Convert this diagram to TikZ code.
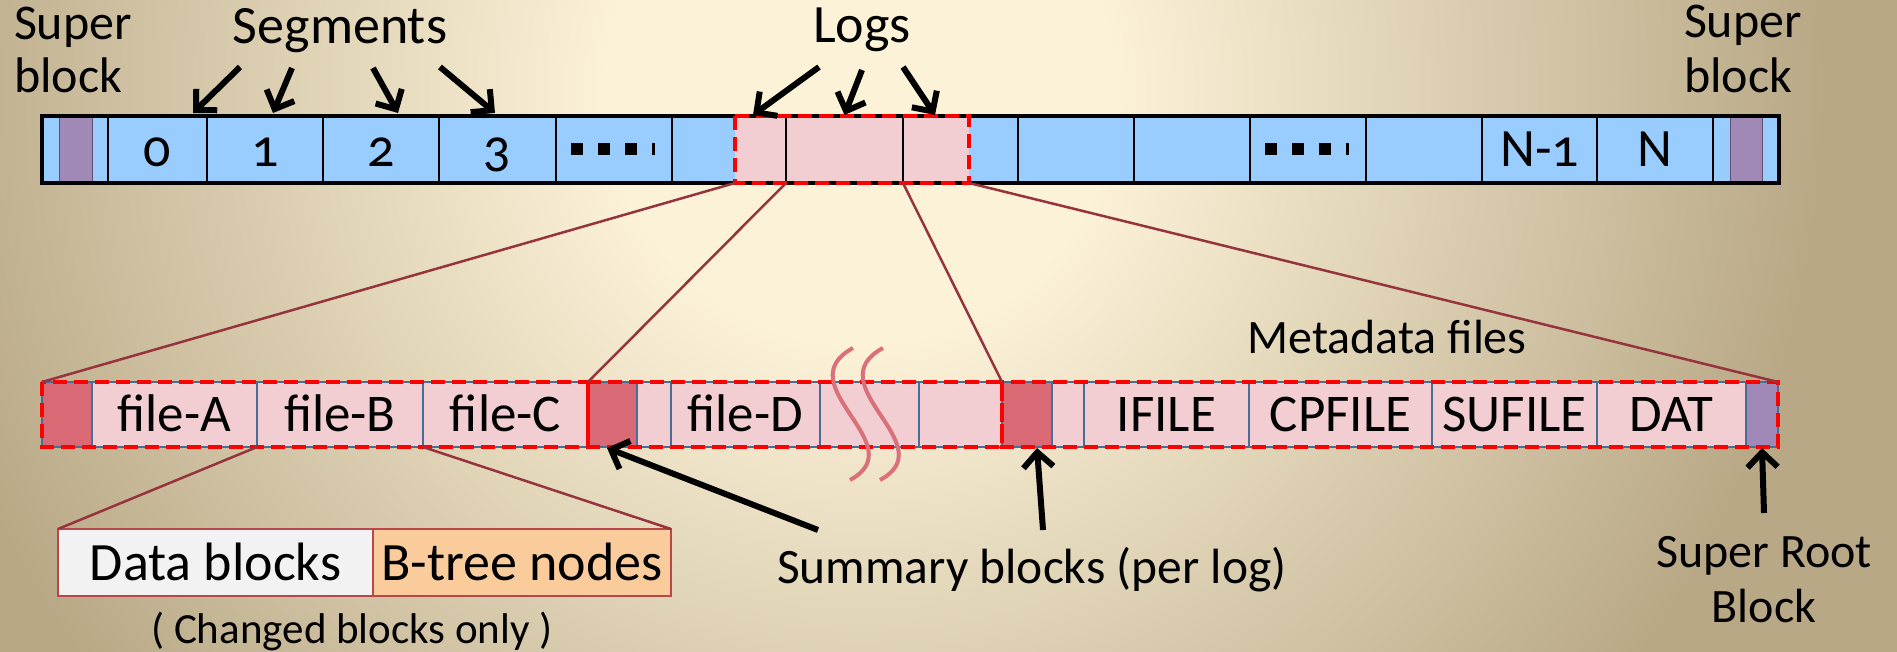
\documentclass[tikz,border=0pt]{standalone}
\usepackage{fontspec}
\setmainfont{Carlito}
\newfontfamily\oldnum[Numbers=OldStyle]{Carlito}
\usetikzlibrary{arrows.meta}

\definecolor{bgcream}{RGB}{252,242,216}
\definecolor{bgtan}{RGB}{184,168,134}
\definecolor{segblue}{RGB}{153,204,255}
\definecolor{sbpurple}{RGB}{160,137,183}
\definecolor{sbedge}{RGB}{96,80,110}
\definecolor{logpink}{RGB}{242,206,210}
\definecolor{sumred}{RGB}{216,105,117}
\definecolor{linkred}{RGB}{150,52,62}
\definecolor{dashred}{RGB}{255,0,0}
\definecolor{cellline}{RGB}{70,110,150}
\definecolor{wavepink}{RGB}{218,112,122}
\definecolor{datagray}{RGB}{242,242,242}
\definecolor{btreeorange}{RGB}{250,203,155}
\definecolor{boxred}{RGB}{185,70,75}

% warm paper background: light in the upper middle, darker towards the edges
% (the shaded circle's radius corresponds to 25bp of the shading)
\pgfdeclareradialshading{paperglow}{\pgfpoint{0bp}{0bp}}{%
  color(0bp)=(bgcream); color(6bp)=(bgcream); color(23bp)=(bgtan); color(50bp)=(bgtan)}

\newcommand\fs[1]{\fontsize{#1}{#1}\selectfont}

\tikzset{
  every node/.style={inner sep=0pt, outer sep=0pt},
  lbl/.style={anchor=base},
  segcell/.style={draw=black, line width=2pt, minimum height=67pt,
    text height=35pt, text depth=0pt, font=\oldnum\fs{54}},
  logcell/.style={draw=cellline, line width=1.2pt, fill=logpink, minimum height=65pt,
    text height=33pt, text depth=0pt, font=\fs{53}},
  sumcell/.style={logcell, fill=sumred},
  logdash/.style={draw=dashred, line width=4pt, dash pattern=on 14pt off 7pt},
  link/.style={draw=linkred, line width=2.5pt},
  pointer/.style={draw=black, line width=6pt, -{Straight Barb[length=15pt, width=30pt]}},
  wave/.style={draw=wavepink, line width=4pt},
  kindbox/.style={draw=boxred, line width=1.5pt, minimum height=67pt,
    text height=35pt, text depth=0pt, font=\fs{54}},
  sblabel/.style={anchor=base west, font=\fs{50}},
}

\begin{document}
\begin{tikzpicture}[x=1pt, y=-1pt]
% background
\begin{scope}
  \clip (0,0) rectangle (1897,652);
  \fill[bgtan] (0,0) rectangle (1897,652);
  \shade[shading=paperglow] (860,90) circle (1050pt);
\end{scope}
\useasboundingbox (0,0) rectangle (1897,652);

% ---------- segment bar ----------
\node[fill=segblue, minimum width=1737pt, minimum height=67pt] (topbar) at (910.5,149.5) {};
\node[fill=logpink, minimum width=234pt, minimum height=67pt] (logs) at (852,149.5) {};
\node[fill=sbpurple, draw=sbedge, line width=1pt, minimum width=33pt, minimum height=67pt] (sbL) at (75.5,149.5) {};
\node[fill=sbpurple, draw=sbedge, line width=1pt, minimum width=32pt, minimum height=67pt] (sbR) at (1746,149.5) {};

\node[segcell, minimum width=66pt]  (eL)  at (75,149.5)   {};
\node[segcell, minimum width=99pt]  (c0)  at (157.5,149.5) {0};
\node[segcell, minimum width=116pt] (c1)  at (265,149.5)   {1};
\node[segcell, minimum width=116pt] (c2)  at (381,149.5)   {2};
\node[segcell, minimum width=117pt] (c3)  at (497.5,149.5) {3};
\node[segcell, minimum width=116pt] (c4)  at (614,149.5)   {};
\node[segcell, minimum width=114pt] (c5)  at (729,149.5)   {};
\node[segcell, minimum width=117pt] (c6)  at (844.5,149.5) {};
\node[segcell, minimum width=115pt] (c7)  at (960.5,149.5) {};
\node[segcell, minimum width=116pt] (c8)  at (1076,149.5)  {};
\node[segcell, minimum width=116pt] (c9)  at (1192,149.5)  {};
\node[segcell, minimum width=116pt] (c10) at (1308,149.5)  {};
\node[segcell, minimum width=116pt] (c11) at (1424,149.5)  {};
\node[segcell, minimum width=115pt] (c12) at (1539.5,149.5) {N-1};
\node[segcell, minimum width=116pt] (c13) at (1655,149.5)  {N};
\node[segcell, minimum width=66pt]  (eR)  at (1746,149.5)  {};

% square dots standing for the omitted segments
\foreach \cc in {c4,c10}{
  \foreach \dx in {15,42,69}
    \fill ([xshift=\dx pt, yshift=6.5pt]\cc.west) rectangle ++(12,12);
  \fill ([xshift=96pt, yshift=6.5pt]\cc.west) rectangle ++(3,12);
}

\draw[line width=4pt] (topbar.north west) rectangle (topbar.south east);
\draw[logdash] (logs.north west) rectangle (logs.south east);

% ---------- labels above the bar ----------
\node[sblabel] (supL1) at (14,40) {Super};
\node[sblabel] (supL2) at (14,93) {block};
\node[sblabel] (supR1) at (1684,38) {Super};
\node[sblabel] (supR2) at (1684,93) {block};
\node[lbl, font=\fs{54}] (segs) at (340,44) {Segments};
\node[lbl, font=\fs{54}] (logsl) at (862,43) {Logs};

\coordinate (sa0) at (240,67);
\coordinate (sa1) at (292,68);
\coordinate (sa2) at (373,68);
\coordinate (sa3) at (440,67);
\draw[pointer] (sa0) -- ([xshift=-14pt, yshift=3pt]c0.north east);
\draw[pointer] (sa1) -- ([xshift=8pt, yshift=3pt]c1.north);
\draw[pointer] (sa2) -- ([xshift=17pt, yshift=3pt]c2.north);
\draw[pointer] (sa3) -- ([xshift=-2.5pt, yshift=3pt]c3.north);

\coordinate (la0) at (819,67);
\coordinate (la1) at (862,70);
\coordinate (la2) at (903,67);
\draw[pointer] (la0) -- ([xshift=18pt, yshift=1pt]logs.north west);
\draw[pointer] (la1) -- ([yshift=1pt]c6.north);
\draw[pointer] (la2) -- ([xshift=-25.5pt, yshift=1pt]c7.north);

% ---------- log contents ----------
\node[sumcell, minimum width=50pt]  (b0)  at (67,414.5)   {};
\node[logcell, minimum width=165pt] (b1)  at (174.5,414.5) {file-A};
\node[logcell, minimum width=166pt] (b2)  at (340,414.5)   {file-B};
\node[logcell, minimum width=165pt] (b3)  at (505.5,414.5) {file-C};
\node[sumcell, minimum width=49pt]  (b4)  at (612.5,414.5) {};
\node[logcell, minimum width=34pt]  (b5)  at (654,414.5)   {};
\node[logcell, minimum width=149pt] (b6)  at (745.5,414.5) {file-D};
\node[logcell, minimum width=99pt]  (b7)  at (869.5,414.5) {};
\node[logcell, minimum width=83pt]  (b8)  at (960.5,414.5) {};
\node[sumcell, minimum width=50pt]  (b9)  at (1027,414.5)  {};
\node[logcell, minimum width=32pt]  (b10) at (1068,414.5)  {};
\node[logcell, minimum width=165pt] (b11) at (1166.5,414.5) {IFILE};
\node[logcell, minimum width=183pt] (b12) at (1340.5,414.5) {CPFILE};
\node[logcell, minimum width=165pt] (b13) at (1514.5,414.5) {SUFILE};
\node[logcell, minimum width=149pt] (b14) at (1671.5,414.5) {DAT};
\node[logcell, fill=sbpurple, minimum width=32pt] (b15) at (1762,414.5) {};

\draw[logdash] (b0.north west) rectangle (b3.south east);
\draw[logdash] (b4.north west) rectangle (b8.south east);
\draw[logdash] (b9.north west) rectangle (b15.south east);
\draw[draw=dashred, line width=4pt] (b4.north west) -- (b4.south west);

% break marks
\draw[wave] (853,348) .. controls (785,385) and (915,445) .. (850,480);
\draw[wave] (883,348) .. controls (815,385) and (945,445) .. (880,480);

% ---------- expansion lines ----------
\draw[link] (logs.south west) -- (b0.north west);
\draw[link] (c6.south west) -- (b4.north west);
\draw[link] (c7.south west) -- (b9.north west);
\draw[link] (logs.south east) -- (b15.north east);

\node[lbl, font=\fs{48}] (meta) at (1387,353) {Metadata files};

% ---------- block kinds ----------
\node[kindbox, fill=datagray, minimum width=315pt] (dbox) at (215.5,562.5) {Data blocks};
\node[kindbox, fill=btreeorange, minimum width=298pt] (btree) at (522,562.5) {B-tree nodes};
\draw[link] (b2.south west) -- (dbox.north west);
\draw[link] (b3.south west) -- (btree.north east);
\node[lbl, font=\fs{43}] (changed) at (352,643) {( Changed blocks only )};

% ---------- summary and super root ----------
\node[lbl, anchor=base west, font=\fs{49.5}] (summ) at (777,583) {Summary blocks (per log)};
\coordinate (ma0) at (818,530);
\coordinate (ma1) at (1043,530);
\draw[pointer] (ma0) -- ([xshift=-5.5pt, yshift=-1pt]b4.south);
\draw[pointer] (ma1) -- ([xshift=10pt, yshift=-1pt]b9.south);

\node[lbl, font=\fs{48}] (sroot1) at (1764,567) {Super Root};
\node[lbl, font=\fs{48}] (sroot2) at (1764,622) {Block};
\coordinate (ra) at (1764,513);
\draw[pointer] (ra) -- ([yshift=-1pt]b15.south);
\end{tikzpicture}
\end{document}
